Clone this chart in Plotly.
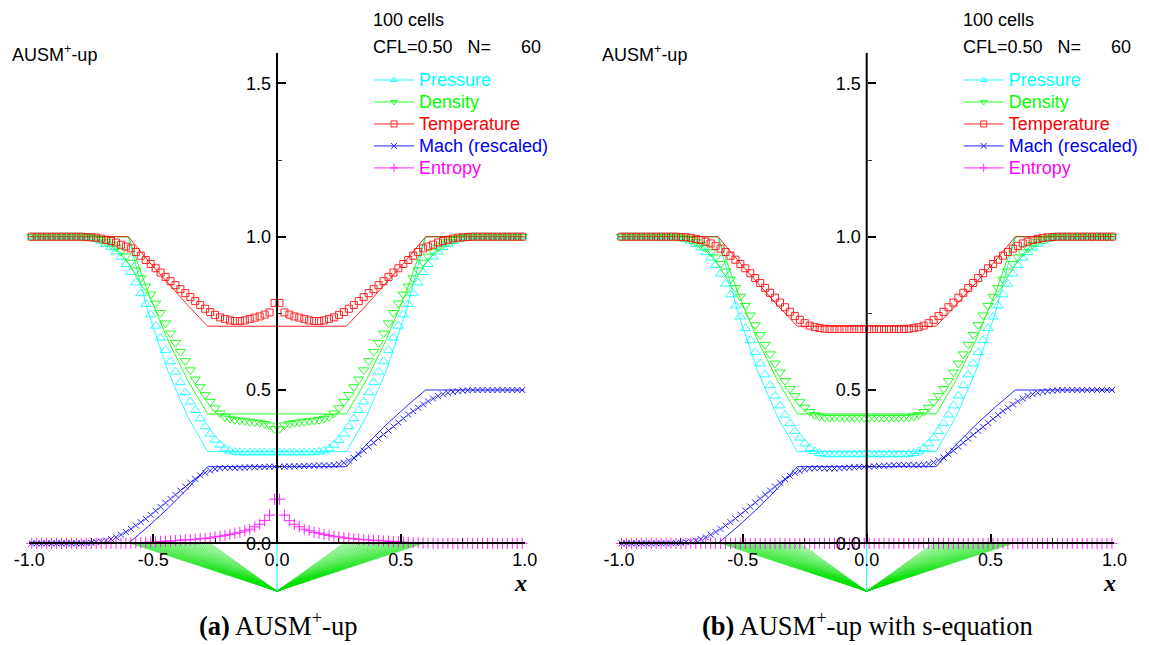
import plotly.graph_objects as go

# ---------------- data ----------------
x_cells = [round(-0.99 + 0.02 * i, 2) for i in range(100)]

pressure_a = [
    1.000, 1.000, 1.000, 1.000, 1.000, 1.000, 1.000, 1.000, 1.000, 1.000,
    1.000, 0.999, 0.997, 0.993, 0.986, 0.976, 0.965, 0.951, 0.934, 0.910,
    0.884, 0.850, 0.815, 0.780, 0.746, 0.709, 0.670, 0.630, 0.593, 0.559,
    0.525, 0.492, 0.462, 0.434, 0.407, 0.381, 0.357, 0.337, 0.321, 0.309,
    0.302, 0.298, 0.296, 0.296, 0.296, 0.296, 0.296, 0.296, 0.296, 0.296,
    0.296, 0.296, 0.296, 0.296, 0.296, 0.296, 0.296, 0.296, 0.298, 0.302,
    0.309, 0.321, 0.337, 0.357, 0.381, 0.407, 0.434, 0.462, 0.492, 0.525,
    0.559, 0.593, 0.630, 0.670, 0.709, 0.746, 0.780, 0.815, 0.850, 0.884,
    0.910, 0.934, 0.951, 0.965, 0.976, 0.986, 0.993, 0.997, 0.999, 1.000,
    1.000, 1.000, 1.000, 1.000, 1.000, 1.000, 1.000, 1.000, 1.000, 1.000]

density_a = [
    1.000, 1.000, 1.000, 1.000, 1.000, 1.000, 1.000, 1.000, 1.000, 1.000,
    1.000, 1.000, 0.998, 0.995, 0.990, 0.983, 0.975, 0.965, 0.952, 0.936,
    0.916, 0.891, 0.865, 0.838, 0.812, 0.783, 0.752, 0.718, 0.685, 0.654,
    0.625, 0.595, 0.565, 0.535, 0.510, 0.484, 0.462, 0.441, 0.424, 0.412,
    0.407, 0.403, 0.401, 0.399, 0.397, 0.395, 0.393, 0.390, 0.385, 0.373,
    0.373, 0.385, 0.390, 0.393, 0.395, 0.397, 0.399, 0.401, 0.403, 0.407,
    0.412, 0.424, 0.441, 0.462, 0.484, 0.510, 0.535, 0.565, 0.595, 0.625,
    0.654, 0.685, 0.718, 0.752, 0.783, 0.812, 0.838, 0.865, 0.891, 0.916,
    0.936, 0.952, 0.965, 0.975, 0.983, 0.990, 0.995, 0.998, 1.000, 1.000,
    1.000, 1.000, 1.000, 1.000, 1.000, 1.000, 1.000, 1.000, 1.000, 1.000]

temperature_a = [
    1.000, 1.000, 1.000, 1.000, 1.000, 1.000, 1.000, 1.000, 1.000, 1.000,
    1.000, 0.999, 0.998, 0.997, 0.994, 0.990, 0.986, 0.981, 0.974, 0.968,
    0.962, 0.950, 0.938, 0.924, 0.911, 0.897, 0.883, 0.869, 0.855, 0.842,
    0.829, 0.816, 0.803, 0.790, 0.777, 0.765, 0.754, 0.745, 0.737, 0.732,
    0.727, 0.725, 0.725, 0.727, 0.732, 0.736, 0.740, 0.746, 0.753, 0.784,
    0.784, 0.753, 0.746, 0.740, 0.736, 0.732, 0.727, 0.725, 0.725, 0.727,
    0.732, 0.737, 0.745, 0.754, 0.765, 0.777, 0.790, 0.803, 0.816, 0.829,
    0.842, 0.855, 0.869, 0.883, 0.897, 0.911, 0.924, 0.938, 0.950, 0.962,
    0.968, 0.974, 0.981, 0.986, 0.990, 0.994, 0.997, 0.998, 0.999, 1.000,
    1.000, 1.000, 1.000, 1.000, 1.000, 1.000, 1.000, 1.000, 1.000, 1.000]

mach_a = [
    0.000, 0.000, 0.000, 0.000, 0.000, 0.000, 0.000, 0.000, 0.000, 0.000,
    0.000, 0.001, 0.002, 0.004, 0.006, 0.009, 0.014, 0.020, 0.028, 0.037,
    0.047, 0.058, 0.069, 0.080, 0.093, 0.106, 0.119, 0.132, 0.145, 0.158,
    0.172, 0.185, 0.198, 0.210, 0.221, 0.230, 0.237, 0.242, 0.245, 0.246,
    0.246, 0.246, 0.247, 0.247, 0.248, 0.248, 0.249, 0.249, 0.250, 0.250,
    0.250, 0.250, 0.251, 0.251, 0.252, 0.252, 0.253, 0.253, 0.254, 0.254,
    0.254, 0.255, 0.258, 0.263, 0.270, 0.279, 0.290, 0.302, 0.315, 0.328,
    0.342, 0.355, 0.368, 0.381, 0.394, 0.407, 0.420, 0.431, 0.442, 0.453,
    0.463, 0.472, 0.480, 0.486, 0.491, 0.494, 0.496, 0.498, 0.499, 0.500,
    0.500, 0.500, 0.500, 0.500, 0.500, 0.500, 0.500, 0.500, 0.500, 0.500]

entropy_a = [
    0.000, 0.000, 0.000, 0.000, 0.000, 0.000, 0.000, 0.000, 0.000, 0.000,
    0.000, 0.000, 0.000, 0.000, 0.000, 0.000, 0.000, 0.000, 0.000, 0.000,
    0.001, 0.002, 0.002, 0.003, 0.004, 0.005, 0.006, 0.007, 0.008, 0.009,
    0.010, 0.011, 0.012, 0.013, 0.015, 0.016, 0.018, 0.021, 0.023, 0.026,
    0.029, 0.033, 0.036, 0.041, 0.046, 0.054, 0.062, 0.074, 0.092, 0.144,
    0.144, 0.092, 0.074, 0.062, 0.054, 0.046, 0.041, 0.036, 0.033, 0.029,
    0.026, 0.023, 0.021, 0.018, 0.016, 0.015, 0.013, 0.012, 0.011, 0.010,
    0.009, 0.008, 0.007, 0.006, 0.005, 0.004, 0.003, 0.002, 0.002, 0.001,
    0.000, 0.000, 0.000, 0.000, 0.000, 0.000, 0.000, 0.000, 0.000, 0.000,
    0.000, 0.000, 0.000, 0.000, 0.000, 0.000, 0.000, 0.000, 0.000, 0.000]

pressure_b = [
    1.000, 1.000, 1.000, 1.000, 1.000, 1.000, 1.000, 1.000, 1.000, 1.000,
    1.000, 0.999, 0.997, 0.993, 0.986, 0.976, 0.964, 0.949, 0.931, 0.907,
    0.879, 0.846, 0.811, 0.775, 0.739, 0.701, 0.662, 0.623, 0.586, 0.550,
    0.515, 0.481, 0.449, 0.419, 0.391, 0.366, 0.344, 0.325, 0.310, 0.300,
    0.294, 0.291, 0.290, 0.290, 0.290, 0.290, 0.290, 0.290, 0.290, 0.290,
    0.290, 0.290, 0.290, 0.290, 0.290, 0.290, 0.290, 0.290, 0.291, 0.294,
    0.300, 0.310, 0.325, 0.344, 0.366, 0.391, 0.419, 0.449, 0.481, 0.515,
    0.550, 0.586, 0.623, 0.662, 0.701, 0.739, 0.775, 0.811, 0.846, 0.879,
    0.907, 0.931, 0.949, 0.964, 0.976, 0.986, 0.993, 0.997, 0.999, 1.000,
    1.000, 1.000, 1.000, 1.000, 1.000, 1.000, 1.000, 1.000, 1.000, 1.000]

density_b = [
    1.000, 1.000, 1.000, 1.000, 1.000, 1.000, 1.000, 1.000, 1.000, 1.000,
    1.000, 1.000, 0.998, 0.995, 0.990, 0.983, 0.974, 0.963, 0.950, 0.933,
    0.912, 0.887, 0.861, 0.833, 0.805, 0.775, 0.744, 0.712, 0.680, 0.648,
    0.617, 0.587, 0.558, 0.530, 0.504, 0.481, 0.461, 0.443, 0.429, 0.419,
    0.414, 0.411, 0.410, 0.410, 0.410, 0.410, 0.410, 0.410, 0.410, 0.410,
    0.410, 0.410, 0.410, 0.410, 0.410, 0.410, 0.410, 0.410, 0.411, 0.414,
    0.419, 0.429, 0.443, 0.461, 0.481, 0.504, 0.530, 0.558, 0.587, 0.617,
    0.648, 0.680, 0.712, 0.744, 0.775, 0.805, 0.833, 0.861, 0.887, 0.912,
    0.933, 0.950, 0.963, 0.974, 0.983, 0.990, 0.995, 0.998, 1.000, 1.000,
    1.000, 1.000, 1.000, 1.000, 1.000, 1.000, 1.000, 1.000, 1.000, 1.000]

temperature_b = [
    1.000, 1.000, 1.000, 1.000, 1.000, 1.000, 1.000, 1.000, 1.000, 1.000,
    1.000, 1.000, 0.999, 0.998, 0.996, 0.993, 0.989, 0.984, 0.978, 0.970,
    0.961, 0.950, 0.938, 0.925, 0.911, 0.897, 0.881, 0.865, 0.849, 0.833,
    0.817, 0.801, 0.785, 0.770, 0.755, 0.741, 0.729, 0.718, 0.710, 0.705,
    0.702, 0.700, 0.699, 0.699, 0.699, 0.699, 0.699, 0.699, 0.699, 0.699,
    0.699, 0.699, 0.699, 0.699, 0.699, 0.699, 0.699, 0.699, 0.700, 0.702,
    0.705, 0.710, 0.718, 0.729, 0.741, 0.755, 0.770, 0.785, 0.801, 0.817,
    0.833, 0.849, 0.865, 0.881, 0.897, 0.911, 0.925, 0.938, 0.950, 0.961,
    0.970, 0.978, 0.984, 0.989, 0.993, 0.996, 0.998, 0.999, 1.000, 1.000,
    1.000, 1.000, 1.000, 1.000, 1.000, 1.000, 1.000, 1.000, 1.000, 1.000]

mach_b = [
    0.000, 0.000, 0.000, 0.000, 0.000, 0.000, 0.000, 0.000, 0.000, 0.000,
    0.000, 0.001, 0.002, 0.004, 0.006, 0.009, 0.014, 0.020, 0.028, 0.037,
    0.047, 0.058, 0.069, 0.081, 0.094, 0.107, 0.120, 0.133, 0.146, 0.159,
    0.172, 0.185, 0.198, 0.210, 0.220, 0.229, 0.236, 0.241, 0.244, 0.245,
    0.245, 0.244, 0.244, 0.244, 0.245, 0.246, 0.247, 0.248, 0.249, 0.250,
    0.250, 0.251, 0.252, 0.253, 0.254, 0.255, 0.256, 0.256, 0.256, 0.255,
    0.255, 0.256, 0.259, 0.264, 0.271, 0.280, 0.290, 0.302, 0.315, 0.328,
    0.341, 0.354, 0.367, 0.380, 0.393, 0.406, 0.419, 0.431, 0.442, 0.453,
    0.463, 0.472, 0.480, 0.486, 0.491, 0.494, 0.496, 0.498, 0.499, 0.500,
    0.500, 0.500, 0.500, 0.500, 0.500, 0.500, 0.500, 0.500, 0.500, 0.500]

entropy_b = [
    0.000, 0.000, 0.000, 0.000, 0.000, 0.000, 0.000, 0.000, 0.000, 0.000,
    0.000, 0.000, 0.000, 0.000, 0.000, 0.000, 0.000, 0.000, 0.000, 0.000,
    0.000, 0.000, 0.000, 0.000, 0.000, 0.000, 0.000, 0.000, 0.000, 0.000,
    0.000, 0.000, 0.000, 0.000, 0.000, 0.000, 0.000, 0.000, 0.000, 0.000,
    0.000, 0.000, 0.000, 0.000, 0.000, 0.000, 0.000, 0.000, 0.000, 0.000,
    0.000, 0.000, 0.000, 0.000, 0.000, 0.000, 0.000, 0.000, 0.000, 0.000,
    0.000, 0.000, 0.000, 0.000, 0.000, 0.000, 0.000, 0.000, 0.000, 0.000,
    0.000, 0.000, 0.000, 0.000, 0.000, 0.000, 0.000, 0.000, 0.000, 0.000,
    0.000, 0.000, 0.000, 0.000, 0.000, 0.000, 0.000, 0.000, 0.000, 0.000,
    0.000, 0.000, 0.000, 0.000, 0.000, 0.000, 0.000, 0.000, 0.000, 0.000]

# exact solution (same in both panels)
exact_x = [-1.0, -0.6, -0.52, -0.44, -0.36, -0.28, 0.28, 0.36, 0.44, 0.52, 0.6, 1.0]
exact_p = [1.0, 1.0, 0.753, 0.561, 0.412, 0.299, 0.299, 0.412, 0.561, 0.753, 1.0, 1.0]
exact_rho = [1.0, 1.0, 0.817, 0.662, 0.531, 0.422, 0.422, 0.531, 0.662, 0.817, 1.0, 1.0]
exact_T = [1.0, 1.0, 0.922, 0.848, 0.776, 0.708, 0.708, 0.776, 0.848, 0.922, 1.0, 1.0]
exact_M = [0.0, 0.0, 0.055, 0.114, 0.179, 0.25, 0.25, 0.321, 0.386, 0.445, 0.5, 0.5]
exact_s_x = [-1.0, 1.0]
exact_s = [0.0, 0.0]

# x-t wave diagram below the axis (rarefaction fans + contact)
fan_origin = -0.156
fan_left = [-0.59, -0.58, -0.57, -0.56, -0.55, -0.54, -0.53, -0.52, -0.51, -0.50,
            -0.49, -0.48, -0.47, -0.46, -0.45, -0.44, -0.43, -0.42, -0.41, -0.40,
            -0.39, -0.38, -0.37, -0.36, -0.35, -0.34, -0.33, -0.32, -0.31, -0.30,
            -0.29, -0.28, -0.27]
fan_right = [0.27, 0.28, 0.29, 0.30, 0.31, 0.32, 0.33, 0.34, 0.35, 0.36,
             0.37, 0.38, 0.39, 0.40, 0.41, 0.42, 0.43, 0.44, 0.45, 0.46,
             0.47, 0.48, 0.49, 0.50, 0.51, 0.52, 0.53, 0.54, 0.55, 0.56,
             0.57, 0.58, 0.59]

x_tick_vals = [-1.0, -0.5, 0.0, 0.5, 1.0]
x_tick_text = ["-1.0", "-0.5", "0.0", "0.5", "1.0"]
y_tick_vals = [0.0, 0.5, 1.0, 1.5]
y_tick_text = ["0.0", "0.5", "1.0", "1.5"]

series_names = ["Pressure", "Density", "Temperature", "Mach (rescaled)", "Entropy"]
colors = ["#00FFFF", "#00FF00", "#FF0000", "#0000FF", "#FF00FF"]
symbols = ["triangle-up-open", "triangle-down-open", "square-open", "x-thin-open", "cross-thin-open"]
msizes = [9, 9, 7, 6, 8]

panels = [
    dict(num=[pressure_a, density_a, temperature_a, mach_a, entropy_a],
         caption="<b>(a)</b> AUSM<sup>+</sup>-up"),
    dict(num=[pressure_b, density_b, temperature_b, mach_b, entropy_b],
         caption="<b>(b)</b> AUSM<sup>+</sup>-up with s-equation"),
]
exact_sets = [(exact_x, exact_p), (exact_x, exact_rho), (exact_x, exact_T),
              (exact_x, exact_M), (exact_s_x, exact_s)]

# ---------------- layout geometry ----------------
W, H = 1149, 645
YMIN, YMAX = -0.16, 1.6
panel_px = [(29.3, 524.7), (619.0, 1114.4)]
y_top_px, y_bot_px = 52.7, 592.4
ydom = [(H - y_bot_px) / H, (H - y_top_px) / H]

def px(x):
    return x / W

def py(y):
    return 1 - y / H

fig = go.Figure()
sans = "Liberation Sans, Arial, sans-serif"
serif = "Liberation Serif, Times New Roman, serif"

annotations = []
shapes = []

for k, pan in enumerate(panels):
    xa = "x" if k == 0 else "x2"
    ya = "y" if k == 0 else "y2"
    leg = "legend" if k == 0 else "legend2"
    x0p, x1p = panel_px[k]
    xdom = [x0p / W, x1p / W]
    off = x0p - panel_px[0][0]

    # wave diagram
    fx, fy = [], []
    for xf in fan_left + fan_right:
        fx += [0, xf, None]
        fy += [fan_origin, 0, None]
    fig.add_trace(go.Scatter(x=fx, y=fy, mode="lines", xaxis=xa, yaxis=ya,
                             line=dict(color="#00E000", width=0.6),
                             showlegend=False, hoverinfo="skip"))
    fig.add_trace(go.Scatter(x=[0, 0], y=[fan_origin, 0], mode="lines", xaxis=xa, yaxis=ya,
                             line=dict(color="#00FFFF", width=1),
                             showlegend=False, hoverinfo="skip"))

    for j in range(5):
        ex, ey = exact_sets[j]
        fig.add_trace(go.Scatter(x=ex, y=ey, mode="lines", xaxis=xa, yaxis=ya,
                                 line=dict(color=colors[j], width=1),
                                 opacity=0.85, showlegend=False))
    for j in range(5):
        fig.add_trace(go.Scatter(x=x_cells, y=pan["num"][j], mode="markers",
                                 xaxis=xa, yaxis=ya, cliponaxis=False,
                                 marker=dict(symbol=symbols[j], size=msizes[j],
                                             color=colors[j],
                                             line=dict(color=colors[j], width=1)),
                                 opacity=0.85, showlegend=False))
    # legend entries
    for j in range(5):
        fig.add_trace(go.Scatter(x=[None], y=[None], mode="lines+markers",
                                 xaxis=xa, yaxis=ya, legend=leg,
                                 name="<span style='color:%s;font-size:18px'>%s</span>" % (colors[j], series_names[j]),
                                 line=dict(color=colors[j], width=1),
                                 marker=dict(symbol=symbols[j], size=6, color=colors[j],
                                             line=dict(color=colors[j], width=1)),
                                 opacity=0.85))

    # axes
    x_axis_pos = ydom[0] + (0 - YMIN) / (YMAX - YMIN) * (ydom[1] - ydom[0])
    y_axis_pos = xdom[0] + 0.5 * (xdom[1] - xdom[0])
    xkey = "xaxis" if k == 0 else "xaxis2"
    ykey = "yaxis" if k == 0 else "yaxis2"
    fig.layout[xkey] = dict(domain=xdom, range=[-1, 1], anchor="free", position=x_axis_pos,
                            automargin=False,
                            showline=True, linecolor="black", linewidth=2,
                            ticks="inside", ticklen=8, tickwidth=2, tickcolor="black",
                            tickmode="array", tickvals=x_tick_vals, ticktext=x_tick_text,
                            minor=dict(tickvals=[-0.75, -0.25, 0.25, 0.75], ticks="inside",
                                       ticklen=4, tickwidth=1, tickcolor="#333"),
                            showgrid=False, zeroline=False,
                            tickfont=dict(family=sans, size=18, color="black"))
    fig.layout[ykey] = dict(domain=ydom, range=[YMIN, YMAX], anchor="free", position=y_axis_pos,
                            automargin=False,
                            showline=False, ticks="inside", ticklen=8, tickwidth=2,
                            tickcolor="black", tickmode="array",
                            tickvals=y_tick_vals, ticktext=y_tick_text,
                            minor=dict(tickvals=[0.25, 0.75, 1.25], ticks="inside",
                                       ticklen=4, tickwidth=1, tickcolor="#333"),
                            showgrid=False, zeroline=False, ticklabelstandoff=6,
                            tickfont=dict(family=sans, size=18, color="black"))
    shapes.append(dict(type="line", xref=xa, yref=ya, x0=0, x1=0, y0=0, y1=YMAX,
                       line=dict(color="black", width=2)))

    # legend box
    leg_cfg = dict(x=px(369 + off), y=py(64), xanchor="left", yanchor="top",
                   bgcolor="rgba(0,0,0,0)", borderwidth=0, itemwidth=40,
                   font=dict(family=sans, size=14.6), tracegroupgap=0)
    fig.layout[leg] = leg_cfg

    # texts
    annotations += [
        dict(x=px(10 + off), y=py(53), xref="paper", yref="paper", showarrow=False,
             xanchor="left", yanchor="middle", text="AUSM<sup>+</sup>-up",
             font=dict(family=sans, size=18, color="black")),
        dict(x=px(371 + off), y=py(20), xref="paper", yref="paper", showarrow=False,
             xanchor="left", yanchor="middle", text="100 cells",
             font=dict(family=sans, size=18, color="black")),
        dict(x=px(371 + off), y=py(47), xref="paper", yref="paper", showarrow=False,
             xanchor="left", yanchor="middle",
             text="CFL=0.50\u00a0\u00a0\u00a0N=\u00a0\u00a0\u00a0\u00a0\u00a0\u00a060",
             font=dict(family=sans, size=18, color="black")),
        dict(x=px(520 + off), y=py(583), xref="paper", yref="paper", showarrow=False,
             xanchor="center", yanchor="middle", text="<b><i>x</i></b>",
             font=dict(family=serif, size=24, color="black")),
        dict(x=px(278 + off), y=py(624), xref="paper", yref="paper", showarrow=False,
             xanchor="center", yanchor="middle", text=pan["caption"],
             font=dict(family=serif, size=26.5, color="black")),
    ]

fig.update_layout(width=W, height=H, margin=dict(l=0, r=0, t=0, b=0, autoexpand=False),
                  paper_bgcolor="white", plot_bgcolor="white",
                  annotations=annotations, shapes=shapes, showlegend=True)

fig.write_html("out.html", config={"displayModeBar": False},
               post_script="document.body.style.margin='0';document.body.style.padding='0';")
